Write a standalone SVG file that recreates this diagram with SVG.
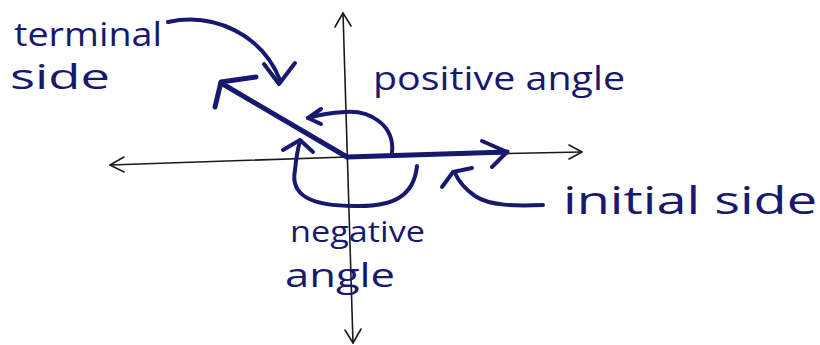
<svg xmlns="http://www.w3.org/2000/svg" width="820" height="345" viewBox="0 0 820 345">
<style>
.axis{stroke:#1a1a1a;stroke-width:1.6;fill:none;stroke-linecap:round;stroke-linejoin:round}
.ink{stroke:#17186e;fill:none;stroke-linecap:round;stroke-linejoin:round}
.thick{stroke-width:5}
.med{stroke-width:4}
.lbl{fill:#17186e;font-family:"Open Sans","Liberation Sans",sans-serif;font-weight:400}
</style>
<rect width="820" height="345" fill="#ffffff"/>
<g id="axes">
<path class="axis" d="M110 165 L347 157 L582 152"/>
<path class="axis" d="M124 157 L110 165 L124 172"/>
<path class="axis" d="M569 145 L582 152 L569 159"/>
<path class="axis" d="M343 13 L353 343"/>
<path class="axis" d="M335 27 L343 13 L351 26"/>
<path class="axis" d="M345 330 L353 343 L361 329"/>
</g>
<g id="terminal-side">
<path class="ink thick" d="M347 157 L221 83"/>
<path class="ink thick" d="M256 77 L221 82 L215 107"/>
</g>
<g id="initial-side">
<path class="ink thick" d="M347 157 L507 152"/>
<path class="ink med" d="M482 141 L507 152 L492 167"/>
</g>
<g id="connectors">
<path class="ink med" d="M168 22 C215 12 262 35 280 80"/>
<path class="ink med" d="M264 64 L279 84 L295 63"/>
<path class="ink med" d="M392 153 C395 125 370 110 345 112 C328 113 315 116 308 118"/>
<path class="ink med" d="M321 109 L308 118 L321 124"/>
<path class="ink med" d="M417 166 C414 195 395 207 355 206 C310 206 290 195 295 170 C296 160 298 148 300 141"/>
<path class="ink med" d="M283 150 L300 140 L313 152"/>
<path class="ink med" d="M543 205 C515 206 490 206 475 196 C465 189 458 180 455 173"/>
<path class="ink med" d="M442 187 L453 172 L472 168"/>
</g>
<g id="labels">
<text class="lbl" x="14" y="46" font-size="32" textLength="148" lengthAdjust="spacingAndGlyphs">terminal</text>
<text class="lbl" x="10" y="89" font-size="34" textLength="100" lengthAdjust="spacingAndGlyphs">side</text>
<text class="lbl" x="373" y="90" font-size="32" textLength="252" lengthAdjust="spacingAndGlyphs">positive angle</text>
<text class="lbl" x="563" y="214" font-size="38" textLength="254" lengthAdjust="spacingAndGlyphs">initial side</text>
<text class="lbl" x="290" y="242" font-size="30" textLength="135" lengthAdjust="spacingAndGlyphs">negative</text>
<text class="lbl" x="285" y="287" font-size="32" textLength="110" lengthAdjust="spacingAndGlyphs">angle</text>
</g>
</svg>
